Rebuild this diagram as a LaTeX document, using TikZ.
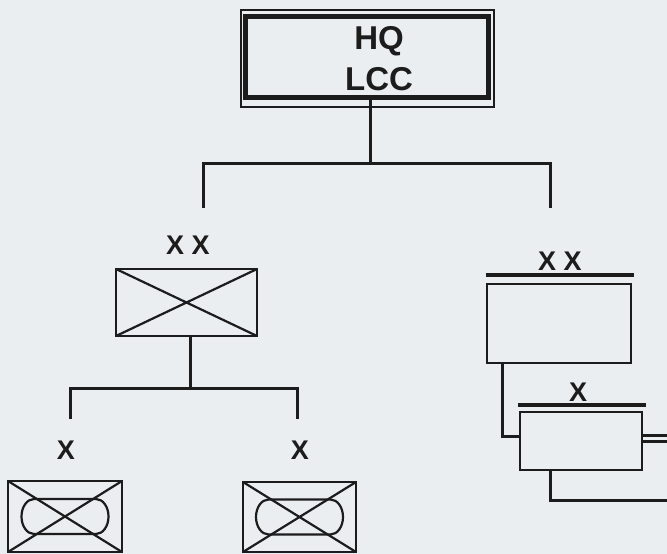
\documentclass[tikz,border=0pt]{standalone}
\usepackage{fontspec}
\newfontfamily\unitfont{Liberation Sans}
\definecolor{paper}{RGB}{234,238,241}
\definecolor{ink}{RGB}{28,28,28}
\tikzset{
  unitbox/.style={draw=ink, line width=2.4pt, inner sep=0pt},
  infantry/.style={unitbox, path picture={
      \draw[ink, line width=2.2pt]
        (path picture bounding box.north west) -- (path picture bounding box.south east)
        (path picture bounding box.south west) -- (path picture bounding box.north east);}},
  mechinf/.style={unitbox, path picture={
      \draw[ink, line width=2.2pt]
        (path picture bounding box.north west) -- (path picture bounding box.south east)
        (path picture bounding box.south west) -- (path picture bounding box.north east);
      \draw[ink, line width=2.2pt]
        ([xshift=-31pt,yshift=17.5pt]path picture bounding box.center) -- ++(62pt,0pt)
        arc[start angle=90, end angle=-90, x radius=12.5pt, y radius=17.5pt]
        -- ++(-62pt,0pt)
        arc[start angle=270, end angle=90, x radius=12.5pt, y radius=17.5pt] -- cycle;}},
  echelon/.style={inner sep=0pt, text=ink, font=\unitfont\bfseries\fontsize{27}{32}\selectfont},
  echelonbar/.style={draw=ink, line width=3.4pt},
  link/.style={draw=ink, line width=3pt},
}
\begin{document}
\begin{tikzpicture}[x=1pt, y=-1pt]
  \fill[paper] (0,0) rectangle (667,554);
  \useasboundingbox (0,0) rectangle (667,554);

  % headquarters
  \node[draw=ink, line width=1.5pt, minimum width=253pt, minimum height=97pt] (hqframe) at (367.5,58.5) {};
  \node[draw=ink, line width=5pt, minimum width=242.5pt, minimum height=81pt] (hq) at (366.75,56.5) {};
  \node[text=ink, align=center, inner sep=0pt,
        font=\unitfont\bfseries\fontsize{33}{41}\selectfont] (hqtext) at (379,59) {HQ\\LCC};

  % divisions
  \node[infantry, minimum width=141pt, minimum height=67pt] (divA) at (186.5,302.5) {};
  \node[echelon] (divAlbl) at (188,245.5) {X X};
  \node[unitbox, minimum width=144pt, minimum height=79pt] (divB) at (559,323.5) {};
  \draw[echelonbar] ([yshift=8pt]divB.north west) -- ([xshift=2pt,yshift=8pt]divB.north east);
  \node[echelon] (divBlbl) at (560,261.5) {X X};

  % brigades
  \node[mechinf, minimum width=114pt, minimum height=71pt] (bdeA1) at (65,516.5) {};
  \node[echelon] (bdeA1lbl) at (66,450.5) {X};
  \node[mechinf, minimum width=113pt, minimum height=70pt] (bdeA2) at (299.5,517) {};
  \node[echelon] (bdeA2lbl) at (300,450.5) {X};
  \node[unitbox, minimum width=122pt, minimum height=58pt] (bdeB) at (581,441) {};
  \draw[echelonbar] ([xshift=-1pt,yshift=6pt]bdeB.north west) -- ([xshift=3pt,yshift=6pt]bdeB.north east);
  \node[echelon] (bdeBlbl) at (578,392) {X};

  % command lines
  \coordinate (hqfork) at (370,163);
  \coordinate (divAend) at (203,208);
  \coordinate (divBend) at (550,208);
  \draw[link] (hqfork |- hq.south) -- (hqfork);
  \draw[link] (divAend) |- (hqfork) -| (divBend);

  \coordinate (divAfork) at (190,388);
  \coordinate (bdeA1end) at (70,419);
  \coordinate (bdeA2end) at (297,419);
  \draw[link] (divAfork |- divA.south) -- (divAfork);
  \draw[link] (bdeA1end) |- (divAfork) -| (bdeA2end);

  \draw[link] ([xshift=17pt]divB.south west) |- ([yshift=5pt]bdeB.west);

  \coordinate (eastA) at (667,435.5);
  \coordinate (eastB) at (667,441.5);
  \coordinate (eastC) at (667,500);
  \draw[link] (bdeB.east |- eastA) -- (eastA);
  \draw[link, line width=2.4pt] (bdeB.east |- eastB) -- (eastB);
  \draw[link] ([xshift=32pt]bdeB.south west) |- (eastC);
\end{tikzpicture}
\end{document}
